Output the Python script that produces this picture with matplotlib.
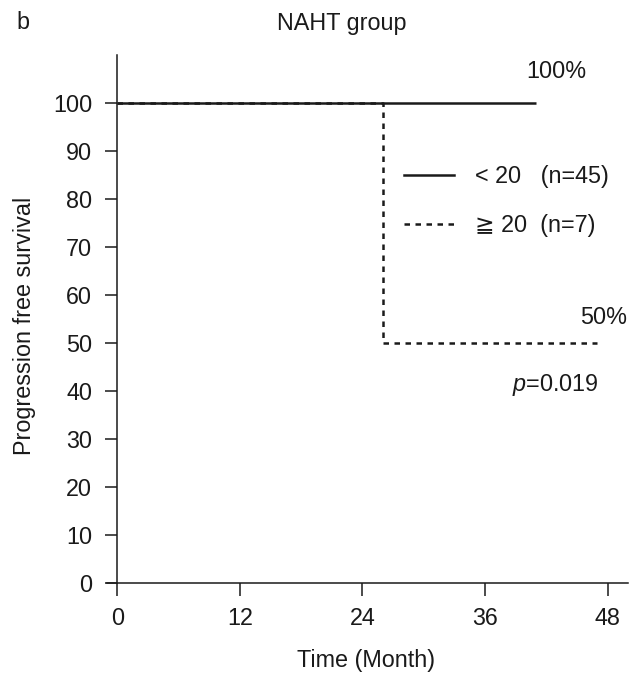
import matplotlib
matplotlib.use("Agg")
import matplotlib.pyplot as plt
from matplotlib.lines import Line2D

plt.rcParams['font.family'] = ['Liberation Sans', 'DejaVu Sans']
plt.rcParams['mathtext.fontset'] = 'custom'
plt.rcParams['mathtext.it'] = 'Liberation Sans:italic'
plt.rcParams['mathtext.rm'] = 'Liberation Sans'

# Data
g1_times = [0, 41]
g1_surv = [100, 100]
g2_times = [0, 26, 47]
g2_surv = [100, 50, 50]
g1_label = "< 20   (n=45)"
g2_label = "≧ 20  (n=7)"
x_ticks = [0, 12, 24, 36, 48]
y_ticks = [0, 10, 20, 30, 40, 50, 60, 70, 80, 90, 100]
end_labels = ["100%", "50%"]
p_text = r"$\mathit{p}$=0.019"

FS = 16.8
C = '#1a1a1a'

fig = plt.figure(figsize=(6.39, 6.73), dpi=100)
ax = fig.add_axes([107/639, 1-583/673, 521/639, 528/673])

ax.step(g1_times, g1_surv, where='post', color=C, lw=1.8, solid_capstyle='butt')
ax.step(g2_times, g2_surv, where='post', color=C, lw=1.8, linestyle=(0, (2.2, 2.2)))

ax.set_xlim(-1, 50)
ax.set_ylim(0, 110)
ax.spines['top'].set_visible(False)
ax.spines['right'].set_visible(False)
ax.spines['left'].set_position(('data', 0))
for s in ['left', 'bottom']:
    ax.spines[s].set_linewidth(1.1)
    ax.spines[s].set_color(C)
ax.set_xticks(x_ticks)
ax.set_yticks(y_ticks)
ax.tick_params(axis='both', direction='out', length=9, width=1.1, color=C,
               labelsize=FS, labelcolor=C)
ax.tick_params(axis='x', pad=8)
ax.tick_params(axis='y', pad=9)

fig.text(342/639, 1-30/673, "NAHT group", ha='center', va='baseline', fontsize=FS, color=C)
fig.text(23/639, 1-29/673, "b", ha='center', va='baseline', fontsize=FS, color=C)
fig.text(366/639, 1-667/673, "Time (Month)", ha='center', va='baseline', fontsize=FS, color=C)
fig.text(25/639, 1-326/673, "Progression free survival", ha='center', va='center',
         rotation=90, fontsize=FS, color=C)

ax.text(43.0, 106.5, end_labels[0], ha='center', va='center', fontsize=FS, color=C)
ax.text(47.6, 55.4, end_labels[1], ha='center', va='center', fontsize=FS, color=C)
ax.text(38.6, 41.2, p_text, ha='left', va='center', fontsize=FS, color=C)

handles = [Line2D([], [], color=C, lw=1.8),
           Line2D([], [], color=C, lw=1.8, linestyle=(0, (2.2, 2.2)))]
leg = ax.legend(handles, [g1_label, g2_label], loc='upper left',
                bbox_to_anchor=((404-107)/521, 1-(165-55)/528), frameon=False,
                fontsize=FS, handlelength=2.15, handletextpad=0.9, labelspacing=1.1,
                borderaxespad=0, borderpad=0)
for t in leg.get_texts():
    t.set_color(C)

fig.savefig("out.png", dpi=100)
